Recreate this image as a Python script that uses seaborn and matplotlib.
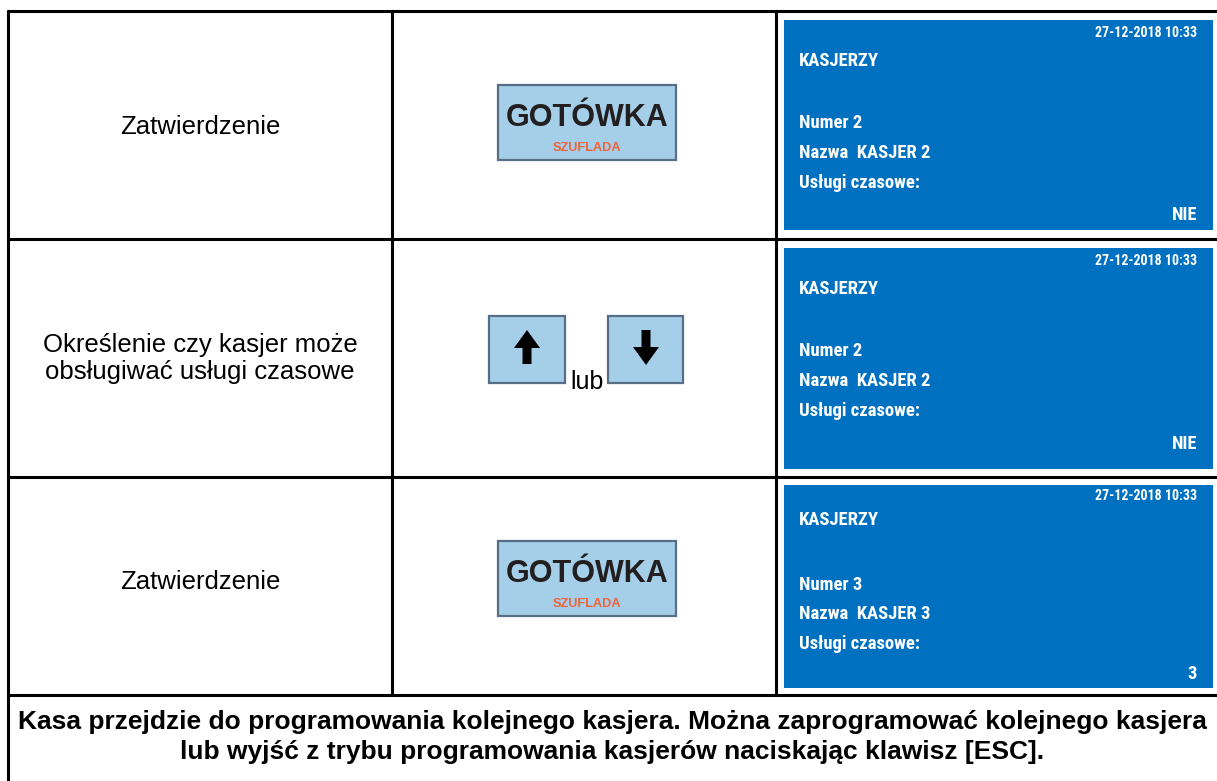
import matplotlib
matplotlib.use("Agg")
import matplotlib.pyplot as plt
from matplotlib.patches import Rectangle, Polygon
import seaborn as sns

# ---- content ----
step_texts = ["Zatwierdzenie",
              "Określenie czy kasjer może\nobsługiwać usługi czasowe",
              "Zatwierdzenie"]
key_types = ["GOTÓWKA", "ARROWS", "GOTÓWKA"]
key_main = "GOTÓWKA"
key_sub = "SZUFLADA"
or_word = "lub"
screen_date = "27-12-2018 10:33"
screen_title = "KASJERZY"
screen_numer = ["Numer 2", "Numer 2", "Numer 3"]
screen_nazwa = ["Nazwa  KASJER 2", "Nazwa  KASJER 2", "Nazwa  KASJER 3"]
screen_field = "Usługi czasowe:"
screen_value = ["NIE", "NIE", "3"]
footer_lines = ["Kasa przejdzie do programowania kolejnego kasjera. Można zaprogramować kolejnego kasjera",
                "lub wyjść z trybu programowania kasjerów naciskając klawisz [ESC]."]

# ---- style ----
sns.set_theme(style="white")
plt.rcParams['font.family'] = ['Liberation Sans', 'DejaVu Sans']
BLUE = "#0070c0"
KEY_FILL = "#a5cfe9"
KEY_EDGE = "#566f86"
SCREEN_FONT = ['Roboto Condensed', 'DejaVu Sans']

fig = plt.figure(figsize=(12.17, 7.81), dpi=100)
ax = fig.add_axes([0, 0, 1, 1])
ax.set_xlim(0, 1217)
ax.set_ylim(781, 0)
ax.axis('off')

# table geometry
row_lines = [11, 239, 477, 695]
x_left, x_c1, x_c2, x_right = 8, 392, 776, 1230
lw = 2.2
for y in row_lines:
    ax.plot([x_left - 1.5, x_right], [y, y], color='black', lw=lw, solid_capstyle='butt')
ax.plot([x_left, x_left], [row_lines[0], 790], color='black', lw=lw)
for x in (x_c1, x_c2):
    ax.plot([x, x], [row_lines[0], row_lines[-1]], color='black', lw=lw)

# left column texts
left_y = [(127,), (345, 372), (582,)]
for txt, ys in zip(step_texts, left_y):
    for line, y in zip(txt.split("\n"), ys):
        ax.text(200, y, line, ha='center', va='center', fontsize=18.5, color='black')

# keys
def gotowka_key(top):
    ax.add_patch(Rectangle((498, top), 178, 75, facecolor=KEY_FILL, edgecolor=KEY_EDGE, lw=1.6))
    ax.text(587, top + 33, key_main, ha='center', va='center', fontsize=22,
            fontweight='bold', color='#231f20')
    ax.text(587, top + 63, key_sub, ha='center', va='center', fontsize=9.2,
            fontweight='bold', color='#f0623a')

def arrow_keys():
    top, bot = 316, 383
    ax.add_patch(Rectangle((489, top), 76, bot - top, facecolor=KEY_FILL, edgecolor=KEY_EDGE, lw=1.6))
    ax.add_patch(Rectangle((608, top), 75, bot - top, facecolor=KEY_FILL, edgecolor=KEY_EDGE, lw=1.6))
    cx = 527
    ax.add_patch(Polygon([(cx, 330), (cx + 13, 348), (cx + 4.5, 348), (cx + 4.5, 364),
                          (cx - 4.5, 364), (cx - 4.5, 348), (cx - 13, 348)],
                         closed=True, facecolor='black', edgecolor='none'))
    cx = 646
    ax.add_patch(Polygon([(cx, 365), (cx + 13, 347), (cx + 4.5, 347), (cx + 4.5, 330),
                          (cx - 4.5, 330), (cx - 4.5, 347), (cx - 13, 347)],
                         closed=True, facecolor='black', edgecolor='none'))
    ax.text(587, 382, or_word, ha='center', va='center', fontsize=18, color='black')

gotowka_key(85)
arrow_keys()
gotowka_key(541)

# screens
screens = [(20, 230, [33, 61, 123, 153, 183, 215]),
           (248, 469, [261, 289, 351, 381, 411, 444]),
           (485, 688, [496, 520, 585, 614, 644, 674])]
fs = 13.4
for i, (top, bot, ys) in enumerate(screens):
    ax.add_patch(Rectangle((784, top), 1213 - 784, bot - top, facecolor=BLUE, edgecolor='none'))
    ax.text(1197, ys[0], screen_date, ha='right', va='center', fontsize=10,
            fontweight='bold', color='white', family=SCREEN_FONT)
    ax.text(799, ys[1], screen_title, ha='left', va='center', fontsize=fs,
            fontweight='bold', color='white', family=SCREEN_FONT)
    ax.text(799, ys[2], screen_numer[i], ha='left', va='center', fontsize=fs,
            fontweight='bold', color='white', family=SCREEN_FONT)
    ax.text(799, ys[3], screen_nazwa[i], ha='left', va='center', fontsize=fs,
            fontweight='bold', color='white', family=SCREEN_FONT)
    ax.text(799, ys[4], screen_field, ha='left', va='center', fontsize=fs,
            fontweight='bold', color='white', family=SCREEN_FONT)
    ax.text(1197, ys[5], screen_value[i], ha='right', va='center', fontsize=fs,
            fontweight='bold', color='white', family=SCREEN_FONT)

# footer
for line, y in zip(footer_lines, [722, 752]):
    ax.text(612, y, line, ha='center', va='center', fontsize=19, fontweight='bold', color='black')

fig.savefig("out.png", dpi=100)
